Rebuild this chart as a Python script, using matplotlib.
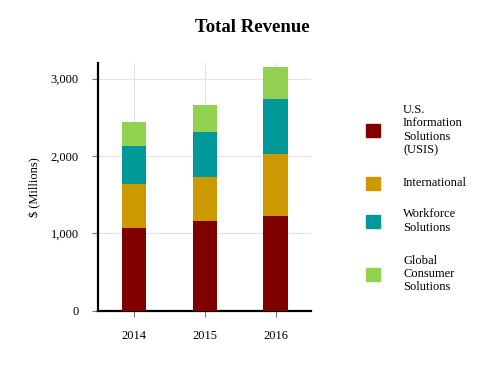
import matplotlib
matplotlib.use("Agg")
import matplotlib.pyplot as plt
from matplotlib.patches import Rectangle
from matplotlib.ticker import FuncFormatter

years = ["2014", "2015", "2016"]
series_names = ["U.S.\nInformation\nSolutions\n(USIS)", "International", "Workforce\nSolutions", "Global\nConsumer\nSolutions"]
usis = [1067, 1158, 1226]
international = [570, 570, 803]
workforce = [496, 582, 704]
gcs = [300, 350, 411]
colors = ["#800000", "#CC9900", "#009999", "#92D050"]

plt.rcParams['font.family'] = ['Liberation Serif', 'DejaVu Serif']

fig = plt.figure(figsize=(5.04, 3.65), dpi=100)
ax = fig.add_axes([0.195, 0.149, 0.422, 0.678])

x = list(range(len(years)))
bottom = [0, 0, 0]
for vals, c in zip([usis, international, workforce, gcs], colors):
    ax.bar(x, vals, width=0.34, bottom=bottom, color=c, zorder=3)
    bottom = [b + v for b, v in zip(bottom, vals)]

ax.set_xlim(-0.5, 2.5)
ax.set_ylim(0, 3200)
ax.set_yticks([0, 1000, 2000, 3000])
ax.yaxis.set_major_formatter(FuncFormatter(lambda v, p: f"{int(v):,}"))
ax.set_xticks(x)
ax.set_xticklabels(years)
ax.grid(True, color="#e3e3e3", linewidth=0.8, zorder=0)
for s in ["top", "right"]:
    ax.spines[s].set_visible(False)
for s in ["left", "bottom"]:
    ax.spines[s].set_linewidth(1.6)
    ax.spines[s].set_color("black")
ax.tick_params(axis="both", labelsize=9, length=4.5, width=0.8, color="#777777", pad=9.5)
ax.set_ylabel("$ (Millions)", fontsize=9, labelpad=7)

fig.text(0.5, 1 - 27 / 365, "Total Revenue", ha="center", va="center", fontsize=13.5, fontweight="bold")

# legend
W, H = 504, 365
centers = [130, 183, 221, 274]
for name, c, cy in zip(series_names, colors, centers):
    fig.patches.append(Rectangle((366 / W, 1 - (cy + 6.5) / H), 14 / W, 13 / H,
                                 transform=fig.transFigure, color=c))
    fig.text(403 / W, 1 - cy / H, name, ha="left", va="center", fontsize=9, linespacing=1.15)

fig.savefig("out.png", dpi=100)
